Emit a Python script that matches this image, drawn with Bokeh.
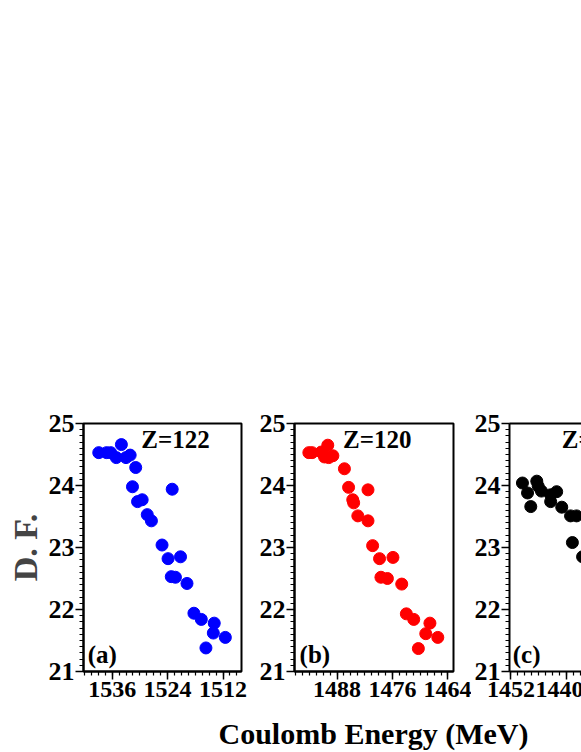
import numpy as np
from bokeh.plotting import figure
from bokeh.layouts import row, column
from bokeh.models import Range1d, FixedTicker, LinearAxis
from bokeh.core.properties import value
from bokeh.embed import file_html
from bokeh.resources import INLINE

# ---------------- data ----------------
energy_a = [1538.9, 1537.2, 1536.3, 1535.1, 1534.0, 1533.0, 1532.1, 1530.9, 1531.6,
            1530.5, 1529.5, 1528.4, 1527.5, 1525.2, 1523.9, 1523.0, 1523.2, 1522.3,
            1521.2, 1519.8, 1518.3, 1516.7, 1515.7, 1514.1, 1513.9, 1511.5]
df_a = [24.53, 24.53, 24.53, 24.45, 24.66, 24.45, 24.49, 24.29, 23.98,
        23.74, 23.77, 23.53, 23.43, 23.04, 22.82, 23.94, 22.53, 22.52,
        22.85, 22.42, 21.94, 21.84, 21.38, 21.62, 21.78, 21.55]

energy_b = [1494.1, 1493.4, 1491.4, 1490.7, 1490.0, 1489.8, 1488.9, 1486.4, 1485.5,
            1484.6, 1484.4, 1483.5, 1481.3, 1481.3, 1480.3, 1478.8, 1478.5, 1477.1,
            1475.9, 1474.0, 1473.0, 1471.4, 1470.4, 1468.8, 1467.9, 1466.2]
df_b = [24.53, 24.53, 24.54, 24.46, 24.65, 24.45, 24.48, 24.27, 23.97,
        23.77, 23.72, 23.51, 23.93, 23.43, 23.03, 22.82, 22.52, 22.50,
        22.84, 22.41, 21.93, 21.84, 21.37, 21.61, 21.78, 21.55]

energy_c = [1449.5, 1448.4, 1447.7, 1446.4, 1446.1, 1445.4, 1443.4, 1443.4, 1442.1,
            1441.0, 1439.1, 1437.8, 1438.7, 1436.5]
df_c = [24.04, 23.88, 23.66, 24.07, 23.99, 23.91, 23.85, 23.74, 23.90,
        23.65, 23.51, 23.51, 23.08, 22.85]

xticks_a = [1536, 1524, 1512]
xticks_b = [1488, 1476, 1464]
xticks_c = [1452, 1440]
yticks = [21, 22, 23, 24, 25]

titles = ["Z=122", "Z=120", "Z="]
panel_tags = ["(a)", "(b)", "(c)"]
colors = ["#0000FF", "#FF0000", "#000000"]
x_title = "Coulomb Energy (MeV)"
y_title = "D. F."

FONT = "Liberation Serif"
TOP = 423
FRAME_H = 248
BOTTOM = 40
TITLE_Y = 24.74
TAG_Y = 21.28


def make_panel(xr, frame_w, border_l, border_r, xticks, energy, df, color,
               title, title_x, title_align, tag, tag_x, outline=True):
    p = figure(frame_width=frame_w, frame_height=FRAME_H,
               min_border_left=border_l, min_border_right=border_r,
               min_border_top=TOP, min_border_bottom=BOTTOM,
               x_range=Range1d(*xr), y_range=Range1d(21, 25),
               output_backend="svg", toolbar_location=None)
    p.background_fill_color = "white"
    p.border_fill_color = "white"
    p.xgrid.grid_line_color = None
    p.ygrid.grid_line_color = None
    if outline:
        p.outline_line_color = "black"
        p.outline_line_width = 2
        p.outline_line_alpha = 1.0
    else:
        p.outline_line_color = None

    xminor = list(np.arange(min(xticks) - 12, max(xticks) + 12.01, 1.5))
    p.xaxis.ticker = FixedTicker(ticks=xticks, minor_ticks=xminor)
    yminor = list(np.round(np.arange(21, 25.001, 0.1), 2))
    p.yaxis.ticker = FixedTicker(ticks=yticks, minor_ticks=yminor)

    for ax in (p.xaxis[0], p.yaxis[0]):
        ax.axis_line_width = 2
        ax.axis_line_color = "black"
        ax.major_tick_in = 0
        ax.major_tick_out = 8
        ax.minor_tick_in = 0
        ax.minor_tick_out = 4
        ax.major_tick_line_width = 1.5
        ax.minor_tick_line_width = 1.2
        ax.major_label_text_font = FONT
        ax.major_label_text_font_style = "bold"
        ax.major_label_text_color = "black"
    p.yaxis.major_label_text_font_size = "26px"
    p.yaxis.major_label_standoff = 1
    p.xaxis.major_label_text_font_size = "24px"
    p.xaxis.major_label_standoff = 2

    p.scatter(energy, df, size=12, color=color, line_color=color)

    p.text(x=[title_x], y=[TITLE_Y], text=[title],
           text_font=value(FONT), text_font_style="bold",
           text_font_size="25px", text_align=title_align,
           text_baseline="middle", text_color="black")
    p.text(x=[tag_x], y=[TAG_Y], text=[tag],
           text_font=value(FONT), text_font_style="bold",
           text_font_size="25px", text_align="left",
           text_baseline="middle", text_color="black")
    return p


pa = make_panel((1542.2, 1508.0), 158, 83, 13, xticks_a, energy_a, df_a, colors[0],
                titles[0], 1522.3, "center", panel_tags[0], 1541.3)
pa.yaxis.axis_label = y_title
pa.yaxis.axis_label_text_font = FONT
pa.yaxis.axis_label_text_font_style = "bold"
pa.yaxis.axis_label_text_font_size = "34px"
pa.yaxis.axis_label_standoff = 2

pb = make_panel((1497.2, 1462.8), 159, 40, 18, xticks_b, energy_b, df_b, colors[1],
                titles[1], 1479.3, "center", panel_tags[1], 1496.1)

pc = make_panel((1452.3, 1436.3), 74, 36, 0, xticks_c, energy_c, df_c, colors[2],
                titles[2], 1441.0, "left", panel_tags[2], 1451.6, outline=False)
top_axis = LinearAxis(ticker=FixedTicker(ticks=[]), axis_line_width=2,
                      axis_line_color="black", major_tick_line_color=None,
                      minor_tick_line_color=None, major_label_text_font_size="0px")
pc.add_layout(top_axis, "above")

# strip holding the common x-axis title
pt = figure(width=581, height=41, x_range=Range1d(0, 581), y_range=Range1d(0, 41),
            min_border=0, output_backend="svg", toolbar_location=None)
pt.axis.visible = False
pt.xgrid.grid_line_color = None
pt.ygrid.grid_line_color = None
pt.outline_line_color = None
pt.background_fill_color = "white"
pt.border_fill_color = "white"
pt.text(x=[373], y=[19], text=[x_title], text_font=value(FONT),
        text_font_style="bold", text_font_size="30px", text_align="center",
        text_baseline="middle", text_color="black")

layout = column(row(pa, pb, pc), pt)
open("out.html", "w").write(file_html(layout, INLINE))
